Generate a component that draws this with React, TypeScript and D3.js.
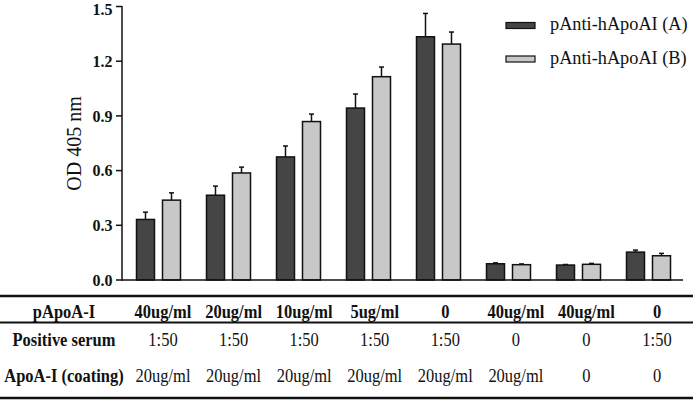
import React from "react";
import * as d3 from "d3";

const groups = ["g1", "g2", "g3", "g4", "g5", "g6", "g7", "g8"];
const seriesNames = ["pAnti-hApoAI (A)", "pAnti-hApoAI (B)"];
const valuesA = [0.332, 0.465, 0.675, 0.943, 1.334, 0.089, 0.082, 0.153];
const valuesB = [0.438, 0.587, 0.869, 1.115, 1.294, 0.084, 0.086, 0.133];
const errorsA = [0.04, 0.05, 0.06, 0.077, 0.128, 0.005, 0.003, 0.011];
const errorsB = [0.04, 0.032, 0.041, 0.053, 0.066, 0.004, 0.005, 0.013];
const yTicks = [0, 0.3, 0.6, 0.9, 1.2, 1.5];
const rowLabels = ["pApoA-I", "Positive serum", "ApoA-I (coating)"];
const rowPApoA = ["40ug/ml", "20ug/ml", "10ug/ml", "5ug/ml", "0", "40ug/ml", "40ug/ml", "0"];
const rowSerum = ["1:50", "1:50", "1:50", "1:50", "1:50", "0", "0", "1:50"];
const rowCoating = ["20ug/ml", "20ug/ml", "20ug/ml", "20ug/ml", "20ug/ml", "20ug/ml", "0", "0"];

const FONT = "'Liberation Serif', 'Times New Roman', serif";
const colors = ["#454545", "#c8c8c8"];

function T(props: { x: number; y: number; s?: number; children: React.ReactNode; [k: string]: any }) {
  const { x, y, s = 1.12, children, ...rest } = props;
  return (
    <text transform={`translate(${x},${y}) scale(1,${s})`} fill="#111" {...rest}>
      {children}
    </text>
  );
}

export default function App() {
  const W = 693, H = 400;
  const y = d3.scaleLinear().domain([0, 1.5]).range([280, 6.5]);
  const x = d3.scaleBand().domain(groups).range([123.5, 683.5]).padding(0);
  const col = d3.scalePoint().domain(groups).range([163, 657]);
  const barW = 18;
  const offsets = [-22, 4];
  const series = [
    { vals: valuesA, errs: errorsA },
    { vals: valuesB, errs: errorsB },
  ];
  const rows = [
    { label: rowLabels[0], vals: rowPApoA, bold: true, yb: 318 },
    { label: rowLabels[1], vals: rowSerum, bold: false, yb: 346 },
    { label: rowLabels[2], vals: rowCoating, bold: false, yb: 381.5 },
  ];
  return (
    <svg width={W} height={H} style={{ position: "absolute", left: 0, top: 0, background: "#fff" }} fontFamily={FONT}>
      {series.map((s, si) =>
        groups.map((g, i) => {
          const cx = (x(g) as number) + x.bandwidth() / 2;
          const x0 = cx + offsets[si];
          const top = y(s.vals[i]);
          const etop = y(s.vals[i] + s.errs[i]);
          const mx = x0 + barW / 2;
          return (
            <g key={`${si}-${i}`}>
              <line x1={mx} x2={mx} y1={top} y2={etop} stroke="#111" strokeWidth={1.5} />
              <line x1={mx - 2.5} x2={mx + 2.5} y1={etop} y2={etop} stroke="#111" strokeWidth={1.5} />
              <rect x={x0} y={top} width={barW} height={y(0) - top} fill={colors[si]} stroke="#111" strokeWidth={1.5} />
            </g>
          );
        })
      )}
      <line x1={122} x2={683} y1={y(0)} y2={y(0)} stroke="#111" strokeWidth={1.5} />
      <line x1={122} x2={122} y1={y(1.5) - 0.5} y2={y(0) + 0.7} stroke="#111" strokeWidth={1.5} />
      {yTicks.map((t) => (
        <g key={t}>
          <line x1={116} x2={122} y1={y(t)} y2={y(t)} stroke="#111" strokeWidth={1.5} />
          <T x={112.5} y={Math.max(y(t) + 5.8, 15)} s={1.05} textAnchor="end" fontWeight="bold" fontSize={16}>
            {t.toFixed(1)}
          </T>
        </g>
      ))}
      <text transform={`translate(81,143.5) rotate(-90)`} textAnchor="middle" fontSize={20} fill="#111">
        OD 405 nm
      </text>
      {seriesNames.map((n, i) => (
        <g key={n}>
          <rect x={506} y={22.5 + i * 33.5} width={29} height={6} fill={colors[i]} stroke="#111" strokeWidth={1.2} />
          <T x={550} y={30 + i * 33.5} s={1.05} fontSize={18.3}>
            {n}
          </T>
        </g>
      ))}
      <line x1={0} x2={W} y1={296} y2={296} stroke="#111" strokeWidth={2.5} />
      <line x1={0} x2={W} y1={322.5} y2={322.5} stroke="#111" strokeWidth={1.8} />
      <line x1={0} x2={W} y1={398} y2={398} stroke="#111" strokeWidth={2.5} />
      {rows.map((r) => (
        <g key={r.label}>
          <T x={64} y={r.yb} textAnchor="middle" fontWeight="bold" fontSize={16.5}>
            {r.label}
          </T>
          {groups.map((g, i) => (
            <T key={g} x={col(g) as number} y={r.yb} textAnchor="middle" fontWeight={r.bold ? "bold" : "normal"} fontSize={16.5}>
              {r.vals[i]}
            </T>
          ))}
        </g>
      ))}
    </svg>
  );
}
